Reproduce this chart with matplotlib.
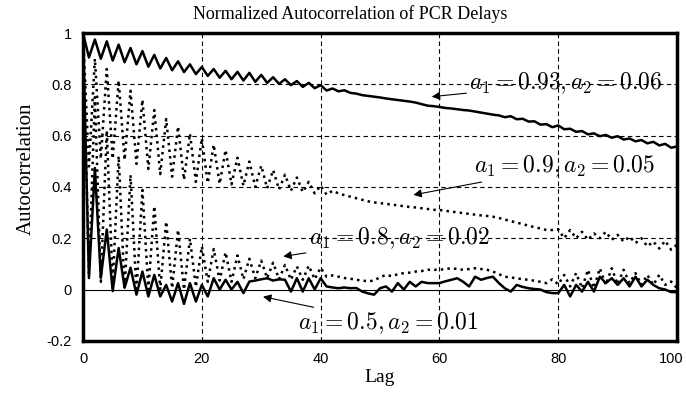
import matplotlib
matplotlib.use("Agg")
import matplotlib.pyplot as plt
import matplotlib.transforms as mtransforms

# lags 0..100
lag = list(range(101))

# a1 = 0.93, a2 = 0.06
acf_093 = [1.0,
           0.905, 0.975, 0.9, 0.968, 0.893, 0.955, 0.886, 0.942, 0.878, 0.93,
           0.869, 0.915, 0.862, 0.903, 0.855, 0.89, 0.848, 0.878, 0.84, 0.868,
           0.833, 0.86, 0.826, 0.853, 0.82, 0.849, 0.815, 0.845, 0.81, 0.837,
           0.806, 0.828, 0.802, 0.82, 0.797, 0.813, 0.79, 0.806, 0.785, 0.797,
           0.776, 0.784, 0.773, 0.777, 0.767, 0.764, 0.758, 0.755, 0.752, 0.749,
           0.745, 0.742, 0.739, 0.736, 0.733, 0.729, 0.723, 0.717, 0.715, 0.712,
           0.708, 0.706, 0.703, 0.7, 0.698, 0.694, 0.69, 0.686, 0.682, 0.679,
           0.672, 0.676, 0.664, 0.666, 0.655, 0.656, 0.643, 0.645, 0.633, 0.64,
           0.625, 0.627, 0.615, 0.618, 0.605, 0.609, 0.598, 0.603, 0.592, 0.598,
           0.585, 0.589, 0.578, 0.583, 0.57, 0.576, 0.562, 0.568, 0.553, 0.558]

# a1 = 0.9, a2 = 0.05
acf_090 = [1.0,
           0.48, 0.9, 0.51, 0.86, 0.51, 0.815, 0.505, 0.775, 0.49, 0.74,
           0.47, 0.70, 0.45, 0.665, 0.44, 0.636, 0.428, 0.608, 0.42, 0.59,
           0.415, 0.565, 0.412, 0.544, 0.41, 0.514, 0.405, 0.499, 0.4, 0.483,
           0.395, 0.466, 0.39, 0.448, 0.385, 0.437, 0.38, 0.42, 0.375, 0.405,
           0.37, 0.385, 0.375, 0.368, 0.362, 0.356, 0.35, 0.344, 0.34, 0.337,
           0.334, 0.331, 0.328, 0.325, 0.322, 0.32, 0.317, 0.314, 0.311, 0.31,
           0.307, 0.304, 0.301, 0.298, 0.295, 0.292, 0.289, 0.287, 0.284, 0.279,
           0.273, 0.267, 0.261, 0.255, 0.249, 0.243, 0.238, 0.232, 0.232, 0.235,
           0.2, 0.232, 0.2, 0.225, 0.194, 0.219, 0.2, 0.225, 0.194, 0.213,
           0.187, 0.206, 0.181, 0.2, 0.168, 0.187, 0.16, 0.19, 0.155, 0.175]

# a1 = 0.8, a2 = 0.02
acf_080 = [1.0,
           0.06, 0.75, 0.03, 0.62, 0.02, 0.52, 0.0, 0.447, -0.01, 0.388,
           0.0, 0.325, 0.0, 0.265, 0.005, 0.233, 0.0, 0.198, 0.01, 0.168,
           0.03, 0.158, 0.035, 0.145, 0.03, 0.133, 0.04, 0.12, 0.044, 0.113,
           0.044, 0.105, 0.04, 0.096, 0.038, 0.09, 0.038, 0.093, 0.04, 0.085,
           0.05, 0.055, 0.05, 0.045, 0.042, 0.038, 0.035, 0.032, 0.035, 0.048,
           0.057, 0.052, 0.06, 0.064, 0.066, 0.07, 0.072, 0.077, 0.077, 0.077,
           0.08, 0.083, 0.08, 0.077, 0.08, 0.083, 0.08, 0.077, 0.07, 0.06,
           0.05, 0.047, 0.044, 0.04, 0.038, 0.034, 0.03, 0.025, 0.04, 0.02,
           0.057, 0.012, 0.064, 0.005, 0.077, 0.005, 0.083, 0.018, 0.083, 0.02,
           0.077, 0.025, 0.064, 0.018, 0.057, 0.018, 0.057, 0.018, 0.031, 0.005]

# a1 = 0.5, a2 = 0.01
acf_050 = [1.0,
           0.045, 0.474, 0.046, 0.234, -0.006, 0.162, 0.007, 0.085, -0.02, 0.07,
           -0.027, 0.057, -0.027, 0.018, -0.047, 0.025, -0.056, 0.025, -0.047, 0.018,
           -0.027, 0.044, 0.0, 0.038, 0.0, 0.03, -0.014, 0.031, 0.035, 0.04,
           0.044, 0.035, 0.04, 0.038, -0.008, 0.044, -0.008, 0.044, 0.0, 0.044,
           0.012, 0.008, 0.005, 0.008, 0.005, 0.006, -0.008, -0.015, -0.02, 0.005,
           0.012, -0.008, 0.025, 0.0, 0.03, 0.012, 0.03, 0.025, 0.025, 0.025,
           0.032, 0.038, 0.044, 0.03, 0.012, 0.05, 0.038, 0.045, 0.05, 0.025,
           0.005, -0.008, 0.018, 0.01, 0.005, 0.002, 0.0, -0.01, -0.014, -0.014,
           0.018, -0.027, 0.018, -0.008, 0.03, -0.008, 0.05, 0.025, 0.044, 0.018,
           0.044, 0.012, 0.05, 0.012, 0.038, 0.018, 0.005, 0.0, -0.01, -0.01]

xticks = [0, 20, 40, 60, 80, 100]
yticks = [-0.2, 0, 0.2, 0.4, 0.6, 0.8, 1]
ytick_labels = ["-0.2", "0", "0.2", "0.4", "0.6", "0.8", "1"]

plt.rcParams['mathtext.fontset'] = 'cm'
serif = 'Liberation Serif'
sans = 'Liberation Sans'

fig = plt.figure(figsize=(6.86, 3.94), dpi=100)
ax = fig.add_axes([0.121, 0.135, 0.866, 0.781])

# grid
for x in xticks[1:-1]:
    ax.axvline(x, color='k', lw=0.8, ls=(0, (4, 3)), zorder=1)
for y in yticks[2:-1]:
    ax.axhline(y, color='k', lw=0.8, ls=(0, (4, 3)), zorder=1)
ax.axhline(0, color='k', lw=0.8, zorder=1)

ax.plot(lag, acf_093, color='k', lw=1.8, zorder=3)
ax.plot(lag, acf_090, color='k', lw=1.8, ls=':', zorder=3)
ax.plot(lag, acf_080, color='k', lw=1.8, ls=':', zorder=3)
ax.plot(lag, acf_050, color='k', lw=1.8, zorder=3)

ax.set_xlim(0, 100)
ax.set_ylim(-0.2, 1)
ax.set_xticks(xticks)
ax.set_xticklabels([str(t) for t in xticks], fontfamily=sans, fontsize=10.5)
ax.set_yticks(yticks)
ax.set_yticklabels(ytick_labels, fontfamily=sans, fontsize=10.5)
ax.tick_params(axis='x', length=0, pad=8)
ax.tick_params(axis='y', length=0, pad=8)
# keep the last x label inside the picture
last = ax.get_xticklabels()[-1]
last.set_transform(last.get_transform() +
                   mtransforms.ScaledTranslation(-6 / 100, 0, fig.dpi_scale_trans))
for s in ax.spines.values():
    s.set_linewidth(2.5)

arrow = dict(arrowstyle='-|>', color='k', lw=0.8, mutation_scale=12,
             shrinkA=0, shrinkB=0)
ax.annotate(r'$a_1 = 0.93, a_2 = 0.06$', xy=(58.7, 0.752), xytext=(65.0, 0.805),
            fontsize=17, va='center', ha='left', arrowprops=arrow)
ax.annotate(r'$a_1 = 0.9, a_2 = 0.05$', xy=(55.6, 0.369), xytext=(65.8, 0.48),
            fontsize=17, va='center', ha='left', arrowprops=arrow)
ax.annotate(r'$a_1 = 0.8, a_2 = 0.02$', xy=(33.7, 0.129), xytext=(38.0, 0.2),
            fontsize=17, va='center', ha='left', arrowprops=arrow)
ax.annotate(r'$a_1 = 0.5, a_2 = 0.01$', xy=(30.3, -0.028), xytext=(36.2, -0.13),
            fontsize=17, va='center', ha='left', arrowprops=arrow)

fig.text(0.511, 0.965, 'Normalized Autocorrelation of PCR Delays',
         fontfamily=serif, fontsize=13, ha='center', va='center')
ax.set_xlabel('Lag', fontfamily=serif, fontsize=14, labelpad=2)
ax.set_ylabel('Autocorrelation', fontfamily=serif, fontsize=15)
ax.yaxis.set_label_coords(-0.08, 0.558)

plt.savefig('out.png', dpi=100)
